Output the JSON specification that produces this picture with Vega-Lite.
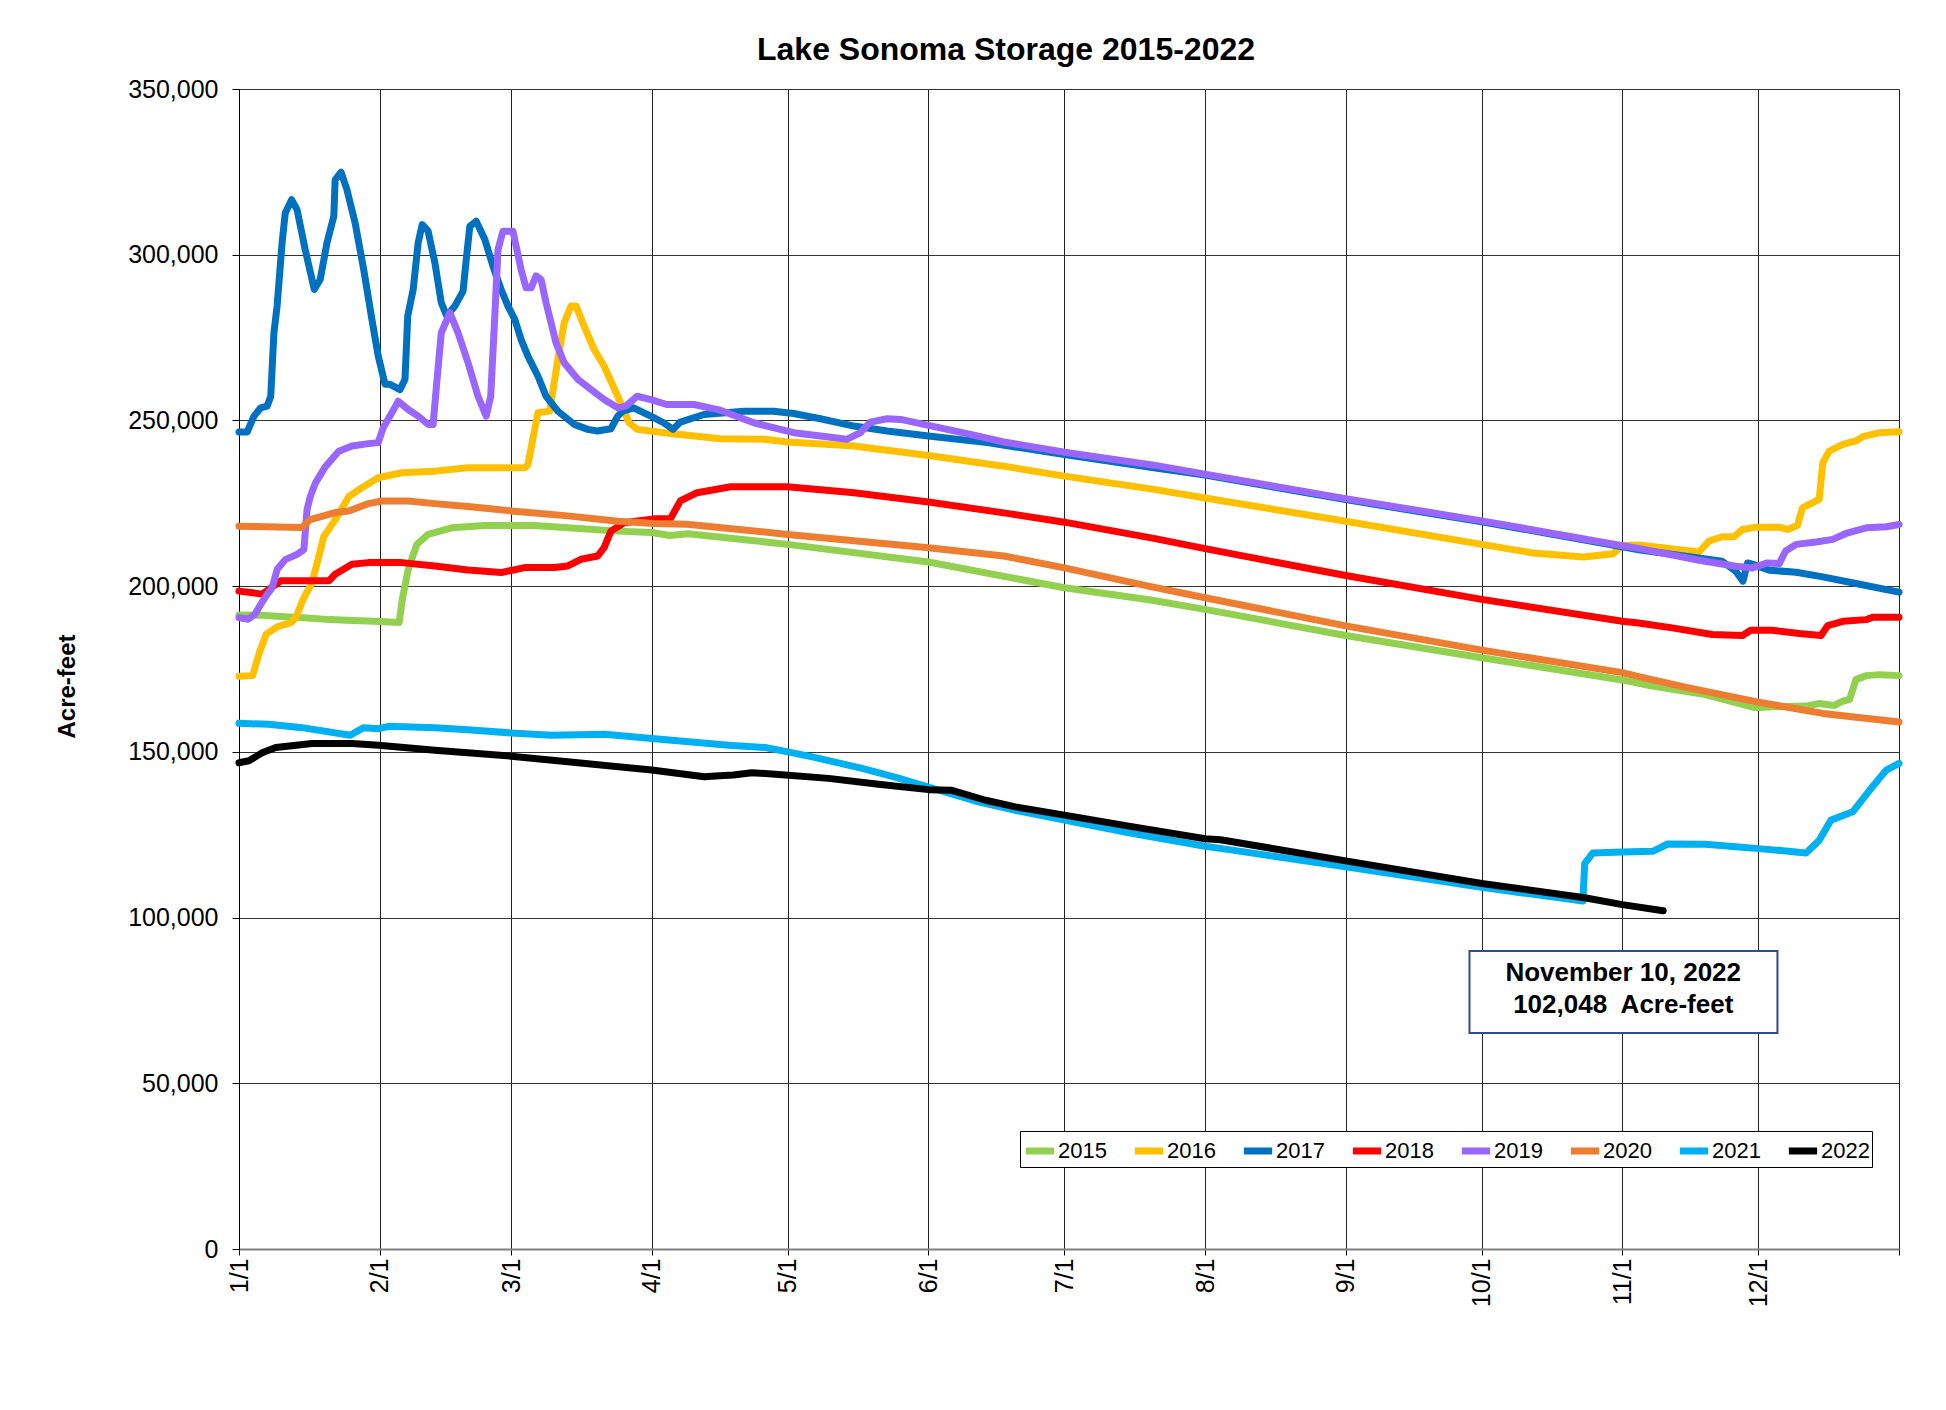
{
  "$schema": "https://vega.github.io/schema/vega-lite/v6.json",
  "autosize": {"type": "none"},
  "padding": {"left": 239, "top": 89, "right": 47, "bottom": 161},
  "width": 1660,
  "height": 1160,
  "background": "white",
  "title": {
    "text": "Lake Sonoma Storage 2015-2022",
    "fontSize": 32,
    "fontWeight": "bold",
    "font": "Liberation Sans",
    "color": "black",
    "anchor": "middle",
    "dx": -63,
    "offset": 10
  },
  "config": {
    "view": {"stroke": null},
    "axis": {
      "labelFont": "Liberation Sans",
      "labelColor": "black",
      "titleFont": "Liberation Sans",
      "titleColor": "black",
      "tickColor": "black",
      "gridColor": "#333333",
      "gridWidth": 1,
      "gridOpacity": 1
    },
    "legend": {
      "labelFont": "Liberation Sans"
    }
  },
  "datasets": {
    "storage": [
      {"year":"2015","day":0,"af":191300},{"year":"2015","day":5,"af":191200},{"year":"2015","day":10,"af":190800},{"year":"2015","day":15,"af":190400},{"year":"2015","day":20,"af":189900},{"year":"2015","day":25,"af":189600},{"year":"2015","day":30,"af":189400},{"year":"2015","day":35.3,"af":189000},{"year":"2015","day":36,"af":196000},{"year":"2015","day":37.3,"af":205000},{"year":"2015","day":39.2,"af":212600},{"year":"2015","day":41.7,"af":215600},{"year":"2015","day":46.9,"af":217600},{"year":"2015","day":54.2,"af":218300},{"year":"2015","day":65.2,"af":218300},{"year":"2015","day":72.5,"af":217600},{"year":"2015","day":83.5,"af":216600},{"year":"2015","day":91,"af":216200},{"year":"2015","day":95,"af":215300},{"year":"2015","day":99,"af":215800},{"year":"2015","day":121,"af":212600},{"year":"2015","day":152,"af":207300},{"year":"2015","day":182,"af":199500},{"year":"2015","day":201,"af":195800},{"year":"2015","day":213,"af":193000},{"year":"2015","day":244,"af":185100},{"year":"2015","day":274,"af":178400},{"year":"2015","day":305,"af":171700},{"year":"2015","day":311,"af":170000},{"year":"2015","day":323.3,"af":167300},{"year":"2015","day":334.4,"af":163300},{"year":"2015","day":338,"af":163600},{"year":"2015","day":345.5,"af":163800},{"year":"2015","day":348.4,"af":164600},{"year":"2015","day":351.8,"af":164000},{"year":"2015","day":353.6,"af":165300},{"year":"2015","day":355.1,"af":165800},{"year":"2015","day":356.5,"af":171800},{"year":"2015","day":358.8,"af":173000},{"year":"2015","day":361.7,"af":173300},{"year":"2015","day":366,"af":173000},

      {"year":"2016","day":0,"af":172800},{"year":"2016","day":3,"af":173000},{"year":"2016","day":4.5,"af":180000},{"year":"2016","day":6,"af":185500},{"year":"2016","day":8.5,"af":187800},{"year":"2016","day":11.5,"af":189000},{"year":"2016","day":12.5,"af":190500},{"year":"2016","day":14.3,"af":196500},{"year":"2016","day":16.1,"af":201000},{"year":"2016","day":17.6,"af":209000},{"year":"2016","day":18.7,"af":215000},{"year":"2016","day":21.2,"af":220000},{"year":"2016","day":24.2,"af":227000},{"year":"2016","day":27.1,"af":229700},{"year":"2016","day":30.7,"af":232700},{"year":"2016","day":35.9,"af":234200},{"year":"2016","day":43.2,"af":234700},{"year":"2016","day":50.5,"af":235700},{"year":"2016","day":63,"af":235700},{"year":"2016","day":63.7,"af":236700},{"year":"2016","day":65.9,"af":252300},{"year":"2016","day":68.5,"af":252800},{"year":"2016","day":70.3,"af":268400},{"year":"2016","day":71.7,"af":279500},{"year":"2016","day":73.2,"af":284500},{"year":"2016","day":74.3,"af":284500},{"year":"2016","day":76.1,"af":278400},{"year":"2016","day":78.3,"af":271400},{"year":"2016","day":80.5,"af":266400},{"year":"2016","day":83.5,"af":257300},{"year":"2016","day":86,"af":249300},{"year":"2016","day":87.8,"af":247300},{"year":"2016","day":93.7,"af":246300},{"year":"2016","day":106.1,"af":244500},{"year":"2016","day":115.7,"af":244300},{"year":"2016","day":121,"af":243500},{"year":"2016","day":135.6,"af":242300},{"year":"2016","day":152,"af":239400},{"year":"2016","day":168.6,"af":236200},{"year":"2016","day":182,"af":233200},{"year":"2016","day":201.7,"af":229200},{"year":"2016","day":213,"af":226600},{"year":"2016","day":244,"af":219600},{"year":"2016","day":274,"af":212600},{"year":"2016","day":285.3,"af":210000},{"year":"2016","day":296.4,"af":208800},{"year":"2016","day":303,"af":209800},{"year":"2016","day":305,"af":212300},{"year":"2016","day":308.6,"af":212400},{"year":"2016","day":321.9,"af":210300},{"year":"2016","day":324.1,"af":213600},{"year":"2016","day":327,"af":214900},{"year":"2016","day":329.6,"af":214900},{"year":"2016","day":331.5,"af":217100},{"year":"2016","day":334.4,"af":217800},{"year":"2016","day":339.6,"af":217800},{"year":"2016","day":341.4,"af":217100},{"year":"2016","day":343.6,"af":218300},{"year":"2016","day":344.7,"af":223600},{"year":"2016","day":348.4,"af":226200},{"year":"2016","day":349.2,"af":237200},{"year":"2016","day":350.6,"af":240700},{"year":"2016","day":353.6,"af":242800},{"year":"2016","day":356.5,"af":243800},{"year":"2016","day":358,"af":245100},{"year":"2016","day":361.7,"af":246300},{"year":"2016","day":366,"af":246600},

      {"year":"2017","day":0,"af":246500},{"year":"2017","day":1.8,"af":246500},{"year":"2017","day":3.3,"af":251300},{"year":"2017","day":4.8,"af":253800},{"year":"2017","day":6.2,"af":254300},{"year":"2017","day":7,"af":257300},{"year":"2017","day":7.7,"af":276400},{"year":"2017","day":8.4,"af":284500},{"year":"2017","day":9.5,"af":303600},{"year":"2017","day":10.2,"af":312600},{"year":"2017","day":11.6,"af":316600},{"year":"2017","day":12.8,"af":313600},{"year":"2017","day":14.6,"af":301500},{"year":"2017","day":16.6,"af":289500},{"year":"2017","day":17.9,"af":292500},{"year":"2017","day":19.4,"af":303600},{"year":"2017","day":20.9,"af":311600},{"year":"2017","day":21.2,"af":322600},{"year":"2017","day":22.5,"af":324900},{"year":"2017","day":23.8,"af":319600},{"year":"2017","day":25.6,"af":309600},{"year":"2017","day":27.5,"af":295500},{"year":"2017","day":29.3,"af":280500},{"year":"2017","day":30.7,"af":269400},{"year":"2017","day":32.2,"af":260900},{"year":"2017","day":33.3,"af":260900},{"year":"2017","day":35.5,"af":259300},{"year":"2017","day":36.6,"af":262400},{"year":"2017","day":37.2,"af":281500},{"year":"2017","day":38.4,"af":289500},{"year":"2017","day":39.5,"af":303600},{"year":"2017","day":40.4,"af":309100},{"year":"2017","day":41.7,"af":307100},{"year":"2017","day":43.2,"af":297500},{"year":"2017","day":44.6,"af":285500},{"year":"2017","day":45.8,"af":281500},{"year":"2017","day":47.6,"af":284500},{"year":"2017","day":49.4,"af":289000},{"year":"2017","day":50.1,"af":298500},{"year":"2017","day":50.9,"af":308600},{"year":"2017","day":52.3,"af":310100},{"year":"2017","day":54.2,"af":304600},{"year":"2017","day":56,"af":296500},{"year":"2017","day":57.8,"af":289500},{"year":"2017","day":59.3,"af":284500},{"year":"2017","day":60.8,"af":280500},{"year":"2017","day":62.2,"af":274400},{"year":"2017","day":63.7,"af":269400},{"year":"2017","day":65.9,"af":263400},{"year":"2017","day":67.7,"af":257300},{"year":"2017","day":70.3,"af":252800},{"year":"2017","day":73.9,"af":248800},{"year":"2017","day":76.9,"af":247300},{"year":"2017","day":79,"af":246800},{"year":"2017","day":82,"af":247500},{"year":"2017","day":83.5,"af":251300},{"year":"2017","day":84.6,"af":252800},{"year":"2017","day":87,"af":253800},{"year":"2017","day":90.8,"af":251300},{"year":"2017","day":93.6,"af":249300},{"year":"2017","day":95.7,"af":247300},{"year":"2017","day":97.3,"af":249500},{"year":"2017","day":102.5,"af":251800},{"year":"2017","day":111.3,"af":252800},{"year":"2017","day":117.9,"af":252800},{"year":"2017","day":122.3,"af":252100},{"year":"2017","day":128.2,"af":250500},{"year":"2017","day":135.6,"af":248300},{"year":"2017","day":142.9,"af":246800},{"year":"2017","day":152,"af":245300},{"year":"2017","day":165,"af":243300},{"year":"2017","day":182,"af":239700},{"year":"2017","day":201.7,"af":235700},{"year":"2017","day":213,"af":233500},{"year":"2017","day":244,"af":226100},{"year":"2017","day":274,"af":219400},{"year":"2017","day":305,"af":211900},{"year":"2017","day":308.6,"af":211000},{"year":"2017","day":327,"af":207500},{"year":"2017","day":330,"af":204500},{"year":"2017","day":331.6,"af":201500},{"year":"2017","day":332.6,"af":207000},{"year":"2017","day":334,"af":206500},{"year":"2017","day":337.4,"af":204800},{"year":"2017","day":343.3,"af":204200},{"year":"2017","day":349.2,"af":202800},{"year":"2017","day":356.5,"af":200800},{"year":"2017","day":366,"af":198200},

      {"year":"2018","day":0,"af":198500},{"year":"2018","day":3,"af":198000},{"year":"2018","day":5.1,"af":197600},{"year":"2018","day":6.6,"af":199000},{"year":"2018","day":9.2,"af":201600},{"year":"2018","day":19.8,"af":201600},{"year":"2018","day":21.2,"af":203600},{"year":"2018","day":24.9,"af":206600},{"year":"2018","day":28.5,"af":207100},{"year":"2018","day":35.9,"af":207100},{"year":"2018","day":43.2,"af":206100},{"year":"2018","day":50.5,"af":204900},{"year":"2018","day":57.8,"af":204100},{"year":"2018","day":63,"af":205600},{"year":"2018","day":69.5,"af":205600},{"year":"2018","day":72.5,"af":206100},{"year":"2018","day":75.4,"af":208100},{"year":"2018","day":79.1,"af":209100},{"year":"2018","day":80.5,"af":211600},{"year":"2018","day":82,"af":216600},{"year":"2018","day":84.9,"af":219100},{"year":"2018","day":91.4,"af":220300},{"year":"2018","day":95.1,"af":220300},{"year":"2018","day":97.3,"af":225700},{"year":"2018","day":101,"af":228200},{"year":"2018","day":108.4,"af":230000},{"year":"2018","day":120.9,"af":230000},{"year":"2018","day":135.6,"af":228200},{"year":"2018","day":152,"af":225400},{"year":"2018","day":168.6,"af":222100},{"year":"2018","day":182,"af":219300},{"year":"2018","day":201.7,"af":214400},{"year":"2018","day":213,"af":211300},{"year":"2018","day":244,"af":203200},{"year":"2018","day":274,"af":196000},{"year":"2018","day":305,"af":189400},{"year":"2018","day":308.6,"af":188900},{"year":"2018","day":316,"af":187400},{"year":"2018","day":324.8,"af":185400},{"year":"2018","day":331.5,"af":185100},{"year":"2018","day":333.3,"af":186700},{"year":"2018","day":338.1,"af":186700},{"year":"2018","day":344,"af":185700},{"year":"2018","day":348.8,"af":185100},{"year":"2018","day":350.3,"af":188100},{"year":"2018","day":353.6,"af":189400},{"year":"2018","day":358.8,"af":189900},{"year":"2018","day":360.2,"af":190600},{"year":"2018","day":366,"af":190600},

      {"year":"2019","day":0,"af":190500},{"year":"2019","day":2,"af":190000},{"year":"2019","day":3.5,"af":191500},{"year":"2019","day":5,"af":195000},{"year":"2019","day":6.2,"af":197500},{"year":"2019","day":7.3,"af":199500},{"year":"2019","day":8.4,"af":205000},{"year":"2019","day":10.2,"af":208000},{"year":"2019","day":12.8,"af":209600},{"year":"2019","day":14.3,"af":211000},{"year":"2019","day":15,"af":223000},{"year":"2019","day":15.7,"af":227000},{"year":"2019","day":16.8,"af":231000},{"year":"2019","day":19,"af":236000},{"year":"2019","day":22,"af":240700},{"year":"2019","day":24.9,"af":242300},{"year":"2019","day":28.5,"af":243000},{"year":"2019","day":30.7,"af":243300},{"year":"2019","day":31.8,"af":247800},{"year":"2019","day":33.7,"af":252300},{"year":"2019","day":35.1,"af":255800},{"year":"2019","day":37.3,"af":253300},{"year":"2019","day":39.5,"af":251300},{"year":"2019","day":41.7,"af":248800},{"year":"2019","day":42.8,"af":248800},{"year":"2019","day":43.6,"af":261400},{"year":"2019","day":44.6,"af":276400},{"year":"2019","day":46.5,"af":282500},{"year":"2019","day":48.3,"af":276400},{"year":"2019","day":50.5,"af":267400},{"year":"2019","day":52.7,"af":257300},{"year":"2019","day":54.5,"af":251300},{"year":"2019","day":55.5,"af":257300},{"year":"2019","day":56.4,"af":281500},{"year":"2019","day":57.1,"af":301500},{"year":"2019","day":58.2,"af":307100},{"year":"2019","day":60.4,"af":307100},{"year":"2019","day":62.2,"af":295500},{"year":"2019","day":63.3,"af":290000},{"year":"2019","day":64.4,"af":290000},{"year":"2019","day":65.5,"af":293600},{"year":"2019","day":66.6,"af":292500},{"year":"2019","day":67.7,"af":285500},{"year":"2019","day":69.9,"af":273400},{"year":"2019","day":71.7,"af":267400},{"year":"2019","day":74.7,"af":262400},{"year":"2019","day":77.6,"af":259300},{"year":"2019","day":80.5,"af":256300},{"year":"2019","day":83.5,"af":253800},{"year":"2019","day":85.3,"af":254300},{"year":"2019","day":87.8,"af":257300},{"year":"2019","day":90.8,"af":256300},{"year":"2019","day":94.3,"af":254800},{"year":"2019","day":100.3,"af":254800},{"year":"2019","day":106.1,"af":253100},{"year":"2019","day":113.5,"af":249300},{"year":"2019","day":122.3,"af":246300},{"year":"2019","day":128.2,"af":245300},{"year":"2019","day":134,"af":244300},{"year":"2019","day":137,"af":246300},{"year":"2019","day":139.2,"af":249500},{"year":"2019","day":142.9,"af":250500},{"year":"2019","day":145.9,"af":250300},{"year":"2019","day":152,"af":248500},{"year":"2019","day":161.3,"af":245800},{"year":"2019","day":168.6,"af":243500},{"year":"2019","day":182,"af":240400},{"year":"2019","day":201.7,"af":236500},{"year":"2019","day":213,"af":233800},{"year":"2019","day":244,"af":226400},{"year":"2019","day":274,"af":219700},{"year":"2019","day":305,"af":212200},{"year":"2019","day":308.6,"af":211400},{"year":"2019","day":321.9,"af":207800},{"year":"2019","day":330,"af":206000},{"year":"2019","day":333.7,"af":205500},{"year":"2019","day":337,"af":207000},{"year":"2019","day":339.6,"af":206800},{"year":"2019","day":341,"af":210600},{"year":"2019","day":343.3,"af":212600},{"year":"2019","day":347.7,"af":213300},{"year":"2019","day":351.4,"af":214100},{"year":"2019","day":354.3,"af":215900},{"year":"2019","day":358.8,"af":217600},{"year":"2019","day":363.2,"af":217900},{"year":"2019","day":366,"af":218600},

      {"year":"2020","day":0,"af":218100},{"year":"2020","day":13.9,"af":217700},{"year":"2020","day":15.7,"af":220100},{"year":"2020","day":21.2,"af":222200},{"year":"2020","day":24.2,"af":222700},{"year":"2020","day":28.5,"af":224900},{"year":"2020","day":31.5,"af":225700},{"year":"2020","day":37.3,"af":225700},{"year":"2020","day":43.2,"af":224900},{"year":"2020","day":50.5,"af":224000},{"year":"2020","day":60,"af":222700},{"year":"2020","day":72.5,"af":221200},{"year":"2020","day":83.5,"af":219600},{"year":"2020","day":91.4,"af":218900},{"year":"2020","day":98.8,"af":218700},{"year":"2020","day":121,"af":215600},{"year":"2020","day":152,"af":211600},{"year":"2020","day":168.6,"af":209100},{"year":"2020","day":182,"af":205500},{"year":"2020","day":200.5,"af":200000},{"year":"2020","day":213,"af":196500},{"year":"2020","day":244,"af":188000},{"year":"2020","day":274,"af":180700},{"year":"2020","day":305,"af":173900},{"year":"2020","day":308.6,"af":172700},{"year":"2020","day":319.6,"af":169300},{"year":"2020","day":335,"af":165000},{"year":"2020","day":349.2,"af":161600},{"year":"2020","day":366,"af":159000},

      {"year":"2021","day":0,"af":158600},{"year":"2021","day":6.6,"af":158300},{"year":"2021","day":13.9,"af":157300},{"year":"2021","day":24.5,"af":155000},{"year":"2021","day":27.5,"af":157300},{"year":"2021","day":30.8,"af":157000},{"year":"2021","day":33,"af":157700},{"year":"2021","day":43.2,"af":157300},{"year":"2021","day":50.5,"af":156700},{"year":"2021","day":60,"af":155700},{"year":"2021","day":68.9,"af":155000},{"year":"2021","day":80.6,"af":155300},{"year":"2021","day":91,"af":154000},{"year":"2021","day":108,"af":152000},{"year":"2021","day":116,"af":151300},{"year":"2021","day":121,"af":150000},{"year":"2021","day":126.4,"af":148500},{"year":"2021","day":137.4,"af":145000},{"year":"2021","day":144.8,"af":142300},{"year":"2021","day":152,"af":139400},{"year":"2021","day":163,"af":134900},{"year":"2021","day":172,"af":132100},{"year":"2021","day":182,"af":129400},{"year":"2021","day":196.2,"af":125600},{"year":"2021","day":213,"af":121500},{"year":"2021","day":218.3,"af":120500},{"year":"2021","day":244,"af":115300},{"year":"2021","day":274,"af":109100},{"year":"2021","day":296.3,"af":105000},{"year":"2021","day":296.7,"af":116300},{"year":"2021","day":298.5,"af":119500},{"year":"2021","day":305,"af":119800},{"year":"2021","day":311.7,"af":120000},{"year":"2021","day":315,"af":122200},{"year":"2021","day":323.3,"af":122100},{"year":"2021","day":330.7,"af":121300},{"year":"2021","day":335,"af":120800},{"year":"2021","day":341,"af":120100},{"year":"2021","day":345.5,"af":119500},{"year":"2021","day":348.4,"af":123300},{"year":"2021","day":351,"af":129400},{"year":"2021","day":355.8,"af":131900},{"year":"2021","day":359.5,"af":138400},{"year":"2021","day":363.2,"af":144500},{"year":"2021","day":366,"af":146500},

      {"year":"2022","day":0,"af":146700},{"year":"2022","day":2.2,"af":147300},{"year":"2022","day":5.1,"af":149700},{"year":"2022","day":8.1,"af":151300},{"year":"2022","day":16.1,"af":152500},{"year":"2022","day":24.9,"af":152500},{"year":"2022","day":30.8,"af":152000},{"year":"2022","day":43.2,"af":150500},{"year":"2022","day":60,"af":148700},{"year":"2022","day":72.5,"af":147000},{"year":"2022","day":91,"af":144500},{"year":"2022","day":102.6,"af":142500},{"year":"2022","day":106,"af":142800},{"year":"2022","day":109,"af":143000},{"year":"2022","day":113.1,"af":143700},{"year":"2022","day":119,"af":143200},{"year":"2022","day":130,"af":142000},{"year":"2022","day":141,"af":140200},{"year":"2022","day":152,"af":138600},{"year":"2022","day":157.2,"af":138400},{"year":"2022","day":164.6,"af":135400},{"year":"2022","day":171.2,"af":133400},{"year":"2022","day":182,"af":130900},{"year":"2022","day":196.2,"af":127600},{"year":"2022","day":213,"af":123800},{"year":"2022","day":216.4,"af":123500},{"year":"2022","day":244,"af":117100},{"year":"2022","day":274,"af":110300},{"year":"2022","day":296.7,"af":106000},{"year":"2022","day":305,"af":103900},{"year":"2022","day":314,"af":102048}
    ],
    "box": [
      {"d1": 271.3, "d2": 339.2, "v1": 65200, "v2": 89900}
    ],
    "note": [
      {"day": 305.2, "af": 83300, "label": "November 10, 2022"},
      {"day": 305.2, "af": 73700, "label": "102,048\u00a0 Acre-feet"}
    ]
  },
  "layer": [
    {
      "data": {"name": "storage"},
      "mark": {"type": "line", "strokeWidth": 7, "strokeCap": "round", "strokeJoin": "round"},
      "encoding": {
        "x": {
          "field": "day",
          "type": "quantitative",
          "scale": {"domain": [0, 366], "nice": false, "zero": false},
          "axis": {
            "title": null,
            "values": [0, 31, 60, 91, 121, 152, 182, 213, 244, 274, 305, 335, 366],
            "labelExpr": "indexof([0,31,60,91,121,152,182,213,244,274,305,335], datum.value) < 0 ? '' : (indexof([0,31,60,91,121,152,182,213,244,274,305,335], datum.value) + 1) + '/1'",
            "labelAngle": -90,
            "labelFontSize": 25,
            "labelPadding": 3,
            "tickSize": 6,
            "grid": true,
            "gridColor": "#222222",
            "domainColor": "#808080",
            "domainWidth": 2
          }
        },
        "y": {
          "field": "af",
          "type": "quantitative",
          "scale": {"domain": [0, 350000], "nice": false},
          "axis": {
            "title": "Acre-feet",
            "titleFontSize": 24,
            "titleFontWeight": "bold",
            "titleX": -160,
            "titleY": 597,
            "values": [0, 50000, 100000, 150000, 200000, 250000, 300000, 350000],
            "labelExpr": "format(datum.value, ',')",
            "labelFontSize": 25,
            "labelPadding": 14,
            "tickSize": 7,
            "grid": true,
            "gridColor": "#333333",
            "domainColor": "black",
            "domainWidth": 1
          }
        },
        "color": {
          "field": "year",
          "type": "nominal",
          "scale": {
            "domain": ["2015", "2016", "2017", "2018", "2019", "2020", "2021", "2022"],
            "range": ["#92D050", "#FFC000", "#0070C0", "#FF0000", "#9966FF", "#ED7D31", "#00B0F0", "#000000"]
          },
          "legend": {
            "title": null,
            "orient": "none",
            "legendX": 781,
            "legendY": 1042,
            "direction": "horizontal",
            "symbolType": "stroke",
            "symbolSize": 800,
            "symbolStrokeWidth": 7,
            "labelFontSize": 22,
            "labelColor": "black",
            "labelOffset": 0,
            "columnPadding": 13,
            "padding": 2,
            "strokeColor": "black",
            "fillColor": "white"
          }
        }
      }
    },
    {
      "data": {"name": "box"},
      "mark": {"type": "rect", "fill": "white", "stroke": "#2E4D8F", "strokeWidth": 2},
      "encoding": {
        "x": {"field": "d1", "type": "quantitative"},
        "x2": {"field": "d2"},
        "y": {"field": "v1", "type": "quantitative"},
        "y2": {"field": "v2"}
      }
    },
    {
      "data": {"name": "note"},
      "mark": {"type": "text", "font": "Liberation Sans", "fontWeight": "bold", "fontSize": 26, "align": "center", "baseline": "middle", "color": "black"},
      "encoding": {
        "x": {"field": "day", "type": "quantitative"},
        "y": {"field": "af", "type": "quantitative"},
        "text": {"field": "label"}
      }
    }
  ]
}
